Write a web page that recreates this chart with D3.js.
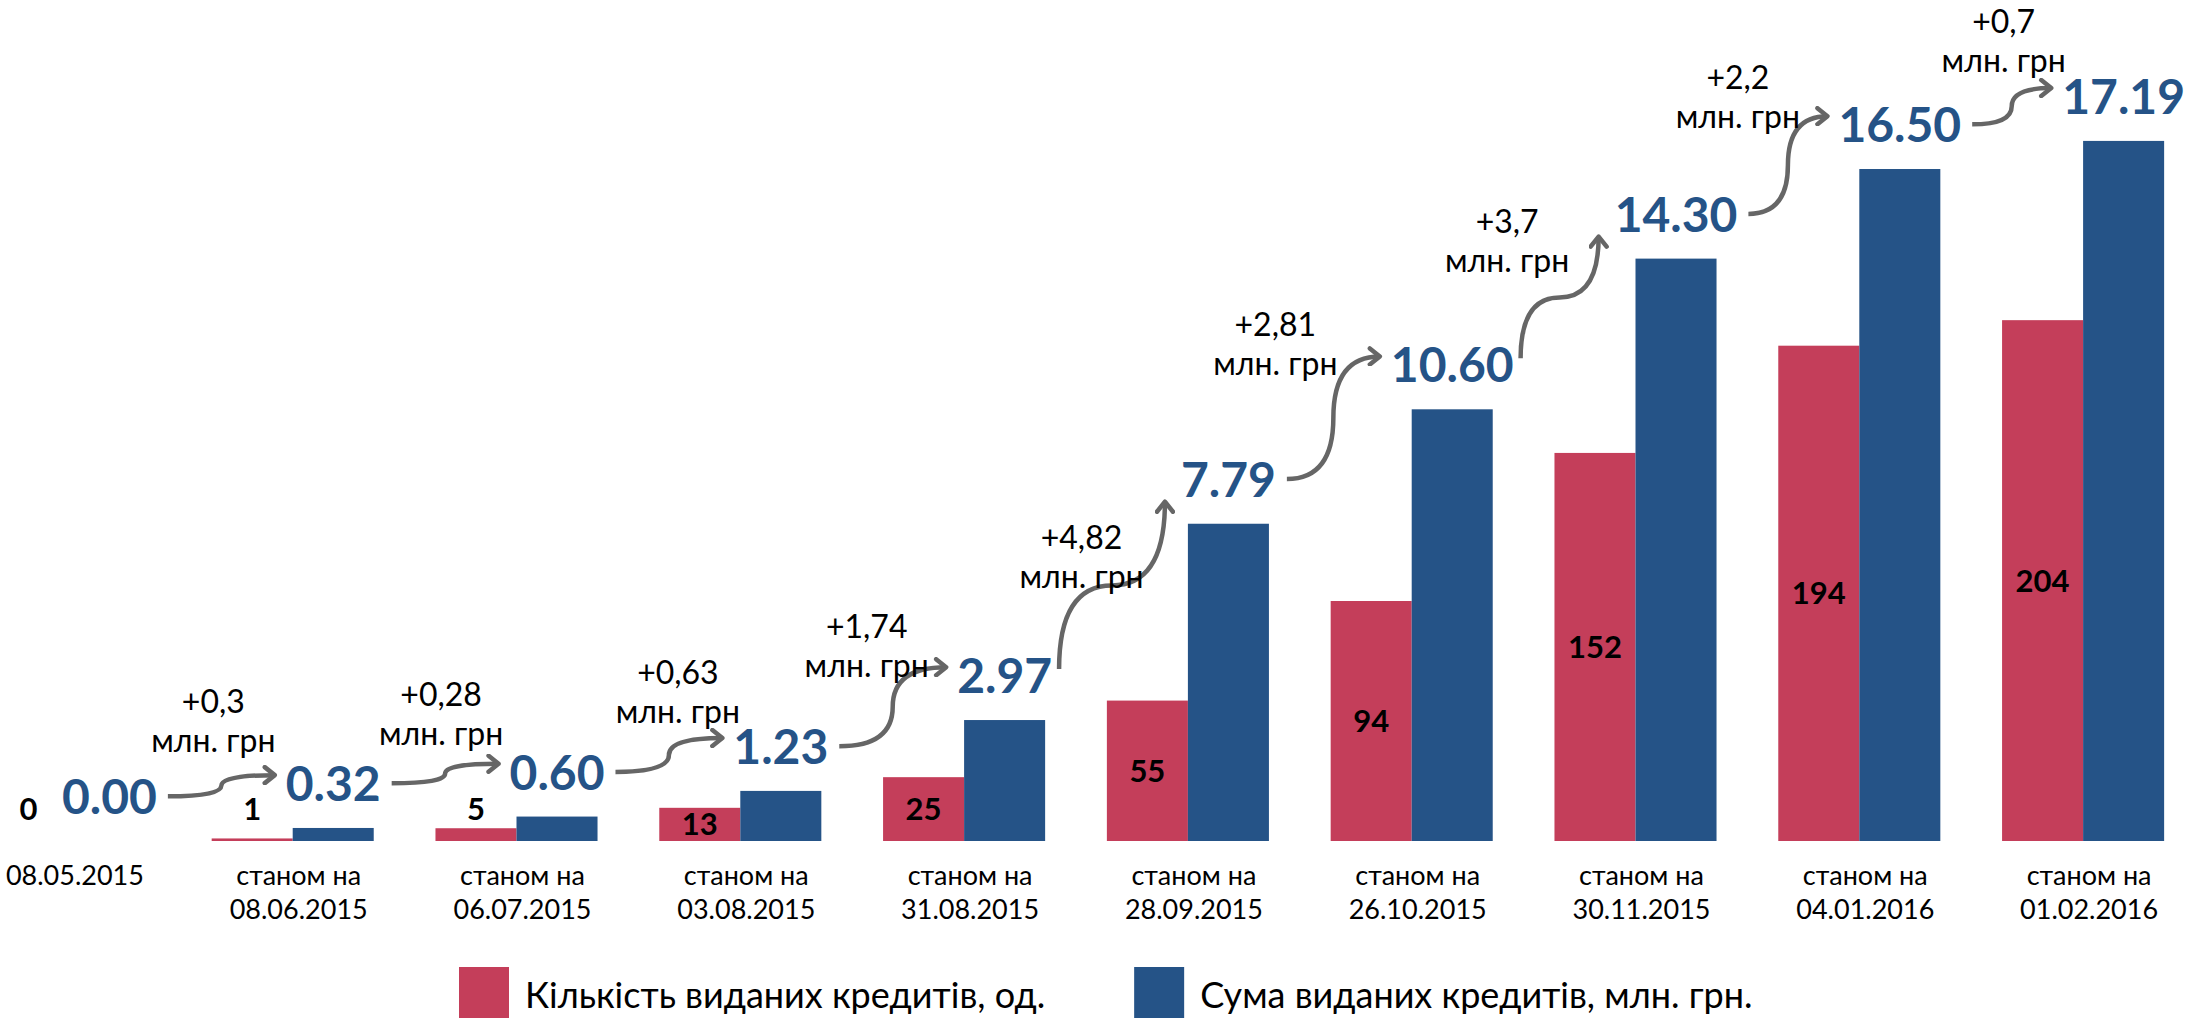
<!DOCTYPE html>
<html>
<head>
<meta charset="utf-8">
<script src="https://cdn.jsdelivr.net/npm/d3@7"></script>
<style>
  body { margin: 0; background: #fff; }
  svg { display: block; font-family: Lato, "Open Sans", sans-serif; }
</style>
</head>
<body>
<div id="chart"></div>
<script>
var dates = ["08.05.2015", "08.06.2015", "06.07.2015", "03.08.2015", "31.08.2015",
             "28.09.2015", "26.10.2015", "30.11.2015", "04.01.2016", "01.02.2016"];
var datePrefix = "станом на";
var counts = [0, 1, 5, 13, 25, 55, 94, 152, 194, 204];
var sums = [0.00, 0.32, 0.60, 1.23, 2.97, 7.79, 10.60, 14.30, 16.50, 17.19];
var increments = ["+0,3", "+0,28", "+0,63", "+1,74", "+4,82", "+2,81", "+3,7", "+2,2", "+0,7"];
var incrementUnit = "млн. грн";
var seriesNames = ["Кількість виданих кредитів, од.", "Сума виданих кредитів, млн. грн."];

// layout of the hand-drawn connectors (h = sideways S, v = upright S)
var arrowKinds = ["h", "h", "h", "h", "v", "h", "v", "h", "h"];
var noteShift = [[-8, -49], [-4, -45], [9, -41], [-26, -16], [-35, 91], [-65, -7], [-57, 40], [-50, -14], [-8, -42]];

var colorCount = "#c43e5a",
    colorSum = "#255387",
    colorArrow = "#666666";

var width = 2191,
    height = 1018,
    baseY = 841,
    capBig = 34;

var svg = d3.select("#chart").append("svg")
    .attr("width", width)
    .attr("height", height);

svg.append("defs").append("marker")
    .attr("id", "head")
    .attr("markerUnits", "userSpaceOnUse")
    .attr("viewBox", "0 0 20 20")
    .attr("refX", 15)
    .attr("refY", 10)
    .attr("markerWidth", 20)
    .attr("markerHeight", 20)
    .attr("orient", "auto")
    .append("path")
    .attr("d", "M5,2 L15,10 L5,18")
    .attr("fill", "none")
    .attr("stroke", colorArrow)
    .attr("stroke-width", 4.5)
    .attr("stroke-linecap", "round")
    .attr("stroke-linejoin", "round");

var x = d3.scaleBand().domain(dates).range([-43, 2195]),
    xSub = d3.scaleBand().domain(["count", "sum"]).range([0, x.bandwidth()]).paddingOuter(0.381),
    yCount = d3.scaleLinear().domain([0, 329.4]).range([baseY, 0]),
    ySum = d3.scaleLinear().domain([0, 20.65]).range([baseY, 0]);

var rows = dates.map(function (d, i) {
    return { date: d, count: counts[i], sum: sums[i] };
});

// bars
svg.append("g").selectAll("rect")
    .data(rows)
    .enter().append("rect")
    .attr("x", function (d) { return x(d.date) + xSub("count"); })
    .attr("y", function (d) { return yCount(d.count); })
    .attr("width", xSub.bandwidth())
    .attr("height", function (d) { return baseY - yCount(d.count); })
    .attr("fill", colorCount);

svg.append("g").selectAll("rect")
    .data(rows)
    .enter().append("rect")
    .attr("x", function (d) { return x(d.date) + xSub("sum"); })
    .attr("y", function (d) { return ySum(d.sum); })
    .attr("width", xSub.bandwidth())
    .attr("height", function (d) { return baseY - ySum(d.sum); })
    .attr("fill", colorSum);

// count labels
svg.append("g").selectAll("text")
    .data(rows)
    .enter().append("text")
    .attr("x", function (d) { return x(d.date) + xSub("count") + xSub.bandwidth() / 2; })
    .attr("y", function (d) {
        var top = yCount(d.count);
        return baseY - top < 30 ? baseY - 21 : (top + baseY) / 2 + 11;
    })
    .attr("text-anchor", "middle")
    .attr("font-size", 31)
    .attr("font-weight", "bold")
    .attr("fill", "#000")
    .text(function (d) { return d.count; });

// sum labels
var sumLabels = svg.append("g").selectAll("text")
    .data(rows)
    .enter().append("text")
    .attr("x", function (d) { return x(d.date) + xSub("sum") + xSub.bandwidth() / 2; })
    .attr("y", function (d) { return ySum(d.sum) - 27; })
    .attr("text-anchor", "middle")
    .attr("font-size", 48)
    .attr("font-weight", "bold")
    .attr("fill", colorSum)
    .text(function (d) { return d.sum.toFixed(2); });

var boxes = [];
sumLabels.each(function (d) {
    var w = this.getComputedTextLength(),
        cx = x(d.date) + xSub("sum") + xSub.bandwidth() / 2,
        b = ySum(d.sum) - 27;
    boxes.push({ cx: cx, left: cx - w / 2, right: cx + w / 2, base: b });
});

// connectors and increment notes
var arrows = svg.append("g"),
    notes = svg.append("g");

increments.forEach(function (inc, i) {
    var a = boxes[i], b = boxes[i + 1], x0, y0, x1, y1, xm, ym, path;

    if (arrowKinds[i] === "h") {
        x0 = a.right + 11; y0 = a.base - capBig * 0.52;
        x1 = b.left - 11; y1 = b.base - capBig * 0.76;
        xm = (x0 + x1) / 2; ym = (y0 + y1) / 2;
        path = "M" + x0 + "," + y0 + " Q" + xm + "," + y0 + " " + xm + "," + ym +
               " Q" + xm + "," + y1 + " " + x1 + "," + y1;
    } else {
        x0 = a.right + 7; y0 = a.base - capBig + 10;
        x1 = b.left - 16; y1 = b.base + 5;
        xm = (x0 + x1) / 2; ym = (y0 + y1) / 2;
        path = "M" + x0 + "," + y0 + " Q" + x0 + "," + ym + " " + xm + "," + ym +
               " Q" + x1 + "," + ym + " " + x1 + "," + y1;
    }

    arrows.append("path")
        .attr("d", path)
        .attr("fill", "none")
        .attr("stroke", colorArrow)
        .attr("stroke-width", 4.5)
        .attr("marker-end", "url(#head)");

    var nx = (a.cx + b.cx) / 2 + noteShift[i][0],
        ny = b.base + noteShift[i][1];

    var t = notes.append("text")
        .attr("text-anchor", "middle")
        .attr("font-size", 32)
        .attr("fill", "#000");
    t.append("tspan").attr("x", nx).attr("y", ny - 39).text(inc);
    t.append("tspan").attr("x", nx).attr("y", ny).text(incrementUnit);
});

// category labels
var cats = svg.append("g").selectAll("text")
    .data(rows)
    .enter().append("text")
    .attr("text-anchor", "middle")
    .attr("font-size", 27)
    .attr("fill", "#000");

cats.each(function (d, i) {
    var t = d3.select(this),
        cx = x(d.date) + x.bandwidth() / 2 + 6;
    if (i === 0) {
        t.append("tspan").attr("x", cx).attr("y", 885).text(d.date);
    } else {
        t.append("tspan").attr("x", cx).attr("y", 885).text(datePrefix);
        t.append("tspan").attr("x", cx).attr("y", 919).text(d.date);
    }
});

// legend
var legend = svg.append("g"),
    lx = 459;

[colorCount, colorSum].forEach(function (c, i) {
    legend.append("rect")
        .attr("x", lx)
        .attr("y", 967)
        .attr("width", 50)
        .attr("height", 51)
        .attr("fill", c);
    var txt = legend.append("text")
        .attr("x", lx + 66)
        .attr("y", 1008)
        .attr("font-size", 36)
        .attr("fill", "#000")
        .text(seriesNames[i]);
    lx = lx + 66 + txt.node().getComputedTextLength() + 89;
});
</script>
</body>
</html>
